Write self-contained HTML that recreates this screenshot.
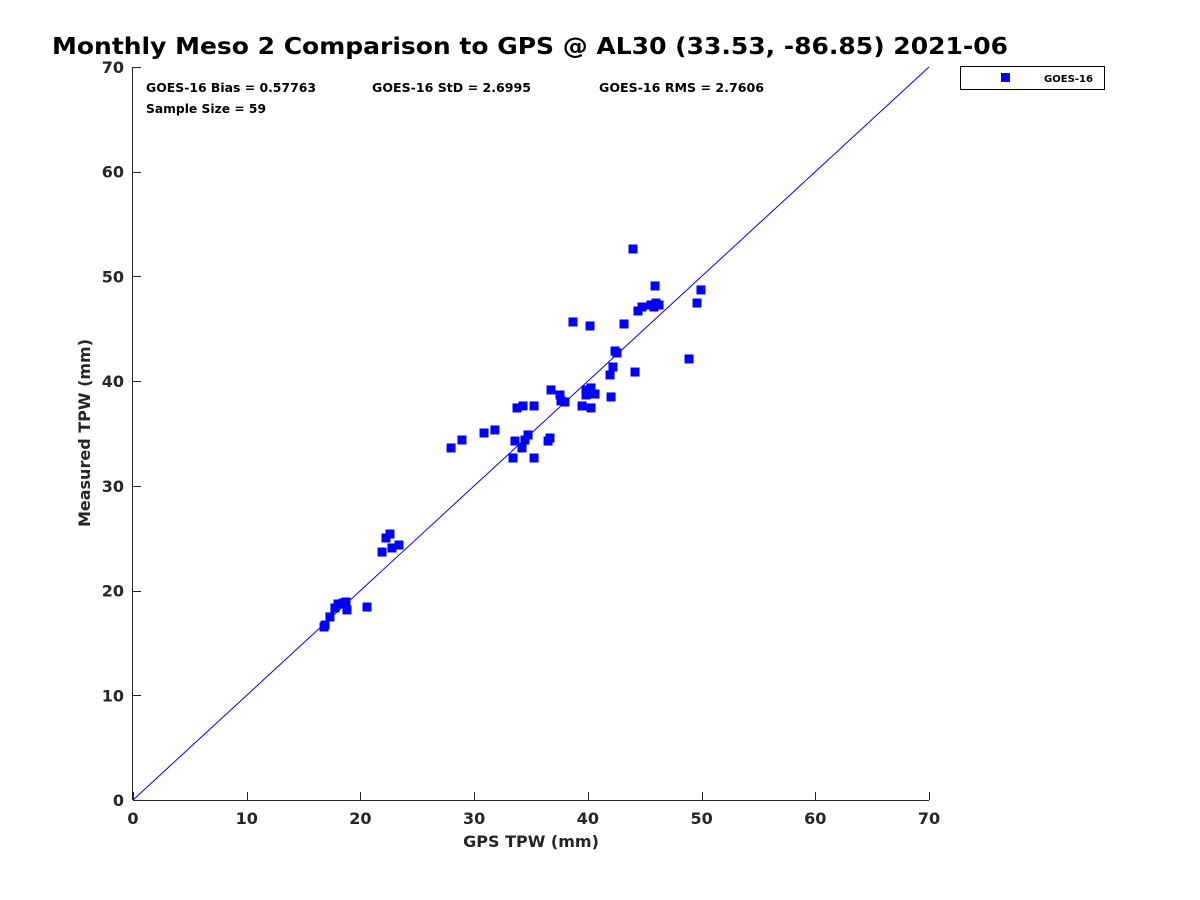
<!DOCTYPE html>
<html><head><meta charset="utf-8"><style>body{margin:0;background:#fff}svg{display:block;font-family:"DejaVu Sans","Liberation Sans",sans-serif}</style></head>
<body>
<svg id="chart" width="1200" height="900">
<text x="52" y="54" font-size="23" font-weight="bold" fill="#000" textLength="956" lengthAdjust="spacingAndGlyphs">Monthly Meso 2 Comparison to GPS @ AL30 (33.53, -86.85) 2021-06</text>
<g id="axes"></g>
<line id="ref" stroke="#0000ff" stroke-width="1"/>
<g id="pts"></g>
<text x="146" y="92" font-size="12" font-weight="bold" textLength="170" lengthAdjust="spacingAndGlyphs">GOES-16 Bias = 0.57763</text>
<text x="372" y="92" font-size="12" font-weight="bold" textLength="159" lengthAdjust="spacingAndGlyphs">GOES-16 StD = 2.6995</text>
<text x="599" y="92" font-size="12" font-weight="bold" textLength="165" lengthAdjust="spacingAndGlyphs">GOES-16 RMS = 2.7606</text>
<text x="146" y="113" font-size="12" font-weight="bold" textLength="120" lengthAdjust="spacingAndGlyphs">Sample Size = 59</text>
<g>
<rect x="960.5" y="66.5" width="144" height="23" fill="#fff" stroke="#000" stroke-width="1"/>
<rect x="1001" y="73" width="9" height="9" fill="#0000ff"/>
<text x="1044" y="82" font-size="10" font-weight="bold" textLength="49" lengthAdjust="spacingAndGlyphs">GOES-16</text>
</g>
<text x="531" y="847" font-size="16" font-weight="bold" fill="#262626" text-anchor="middle">GPS TPW (mm)</text>
<text transform="translate(90,433) rotate(-90)" font-size="16" font-weight="bold" fill="#262626" text-anchor="middle">Measured TPW (mm)</text>
</svg>
<script>
const gpsValues=[16.80,16.89,17.32,17.76,18.03,18.47,18.73,18.82,20.58,21.90,22.25,22.60,22.77,23.39,27.97,28.93,30.87,31.83,33.42,33.59,33.77,34.30,34.21,34.47,34.74,35.27,35.27,36.50,36.76,36.67,37.55,37.64,37.99,39.49,39.84,39.84,40.28,40.28,40.63,38.69,40.19,41.95,42.04,42.21,42.39,42.56,43.18,43.97,44.15,44.41,44.76,45.55,45.91,45.82,45.99,46.26,48.90,49.60,49.95];
const measuredValues=[16.52,16.71,17.48,18.34,18.72,18.81,18.91,18.15,18.43,23.68,25.02,25.40,24.07,24.35,33.62,34.38,35.05,35.34,32.66,34.28,37.44,37.63,33.62,34.38,34.86,37.63,32.66,34.28,39.16,34.57,38.68,38.11,38.01,37.63,39.16,38.68,39.35,37.44,38.77,45.65,45.27,40.59,38.49,41.35,42.88,42.69,45.46,52.62,40.87,46.70,47.08,47.27,49.09,47.08,47.46,47.27,42.12,47.46,48.71];
const tickValues=[0,10,20,30,40,50,60,70];
const X0=133,X1=929,Y0=800,Y1=67,MAXV=70;
const sx=v=>X0+(X1-X0)*v/MAXV, sy=v=>Y0-(Y0-Y1)*v/MAXV;
const NS="http://www.w3.org/2000/svg";
const axes=document.getElementById('axes');
function mk(t,a,p){const e=document.createElementNS(NS,t);for(const k in a)e.setAttribute(k,a[k]);p.appendChild(e);return e;}
const xa=mk('line',{x1:X0,y1:Y0+.5,x2:X1,y2:Y0+.5,stroke:'#262626'},axes);


const ya=mk('line',{x1:X0-.5,y1:Y0,x2:X0-.5,y2:Y1,stroke:'#262626'},axes);


tickValues.forEach(v=>{
 const x=Math.round(sx(v))+.5,y=Math.round(sy(v))+.5;
 mk('line',{x1:x,y1:Y0,x2:x,y2:Y0-8,stroke:'#262626'},axes);
 mk('line',{x1:X0,y1:y,x2:X0+8,y2:y,stroke:'#262626'},axes);
 const tx=mk('text',{x:sx(v),y:Y0+24,'font-size':16,'font-weight':'bold',fill:'#262626','text-anchor':'middle'},axes);
 tx.textContent=v;
 
 
 const ty=mk('text',{x:X0-9,y:sy(v)+6,'font-size':16,'font-weight':'bold',fill:'#262626','text-anchor':'end'},axes);
 ty.textContent=v;
 
 
});
const r=document.getElementById('ref');
r.setAttribute('x1',sx(0));r.setAttribute('y1',sy(0));r.setAttribute('x2',sx(MAXV));r.setAttribute('y2',sy(MAXV));
const g=document.getElementById('pts');
gpsValues.forEach((v,i)=>{
 const p=mk('rect',{x:sx(v)-4.5,y:sy(measuredValues[i])-4.5,width:9,height:9,fill:'#0000ff'},g);
 
 
});
</script>
</body></html>
